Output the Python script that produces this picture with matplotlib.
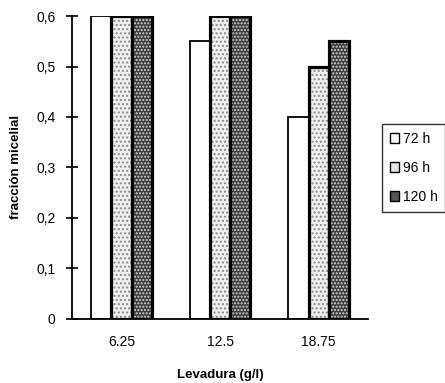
import numpy as np
import matplotlib.pyplot as plt
from matplotlib.patches import Patch

# levadura concentrations and micelial fraction per incubation time
categorias = ["6.25", "12.5", "18.75"]
series = ["72 h", "96 h", "120 h"]
f72 = [0.60, 0.55, 0.40]
f96 = [0.60, 0.60, 0.50]
f120 = [0.60, 0.60, 0.55]

plt.rcParams['font.family'] = ['Liberation Sans', 'DejaVu Sans']

fig = plt.figure(figsize=(4.45, 3.83), dpi=100)
ax = fig.add_axes([0.162, 0.168, 0.665, 0.79])

x = np.arange(len(categorias))
w = 0.205

# white, light stipple, dark stipple
estilos = [
    dict(color='white', hatch=None, hc=None),
    dict(color='#f0f0f0', hatch='....', hc='#8a8a8a'),
    dict(color='#3c3c3c', hatch='.....', hc='#d8d8d8'),
]
datos = [f72, f96, f120]
for k, (vals, st) in enumerate(zip(datos, estilos)):
    pos = x + (k - 1) * w
    if st['hatch']:
        ax.bar(pos, vals, w, color=st['color'], edgecolor=st['hc'],
               hatch=st['hatch'], linewidth=0)
    else:
        ax.bar(pos, vals, w, color=st['color'], linewidth=0)
    lw = 1.3 if k == 0 else 2.3
    ax.bar(pos, vals, w, fill=False, edgecolor='black', linewidth=lw)

ax.set_xlim(-0.5, 2.5)
ax.set_ylim(0, 0.6)
ax.set_yticks([0, 0.1, 0.2, 0.3, 0.4, 0.5, 0.6])
ax.set_yticklabels(['0', '0,1', '0,2', '0,3', '0,4', '0,5', '0,6'], fontsize=10)
ax.set_xticks(x)
ax.set_xticklabels(categorias, fontsize=10)
ax.tick_params(axis='x', length=0, pad=12)
ax.tick_params(axis='y', direction='inout', length=8, width=1.2, pad=8)

for s in ['top', 'right']:
    ax.spines[s].set_visible(False)
ax.spines['left'].set_linewidth(1.3)
ax.spines['bottom'].set_linewidth(1.3)

ax.set_ylabel('fracción micelial', fontsize=9.5, fontweight='bold', labelpad=10)
ax.set_xlabel('Levadura (g/l)', fontsize=9.5, fontweight='bold', labelpad=14)

leg_handles = [
    Patch(facecolor='white', edgecolor='black', linewidth=1),
    Patch(facecolor='#e4e4e4', edgecolor='black', linewidth=1),
    Patch(facecolor='#555555', edgecolor='black', linewidth=1),
]
leg = fig.legend(leg_handles, series, loc='upper left',
                 bbox_to_anchor=(382 / 445, 1 - 124 / 383), fontsize=10,
                 frameon=True, fancybox=False, handlelength=0.7,
                 handleheight=0.7, handletextpad=0.25, labelspacing=1.1,
                 borderpad=0.55, borderaxespad=0)
leg.get_frame().set_edgecolor('black')
leg.get_frame().set_linewidth(1.0)

fig.savefig('out.png', dpi=100)
